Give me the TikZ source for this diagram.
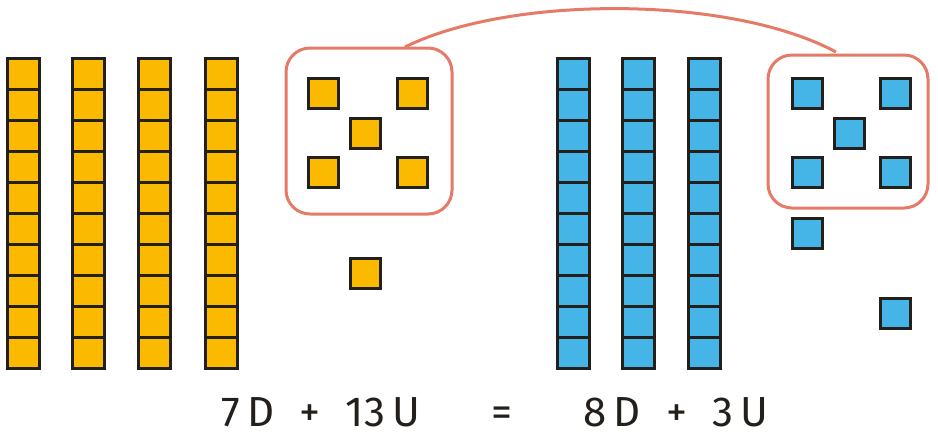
\documentclass[tikz,border=0pt]{standalone}
\usepackage{fontspec}
\setmainfont{Fira Sans}
\definecolor{gold}{HTML}{FBBA00}
\definecolor{sky}{HTML}{45B5E8}
\definecolor{ink}{HTML}{231F1A}
\definecolor{rope}{HTML}{E57A66}
\tikzset{
  cell/.style={draw=ink,line width=3pt},
  loop/.style={draw=rope,line width=3pt,rounded corners=24pt},
}
\begin{document}
\begin{tikzpicture}[x=1pt,y=-1pt]
  \useasboundingbox (0,0) rectangle (938,442);
  % tens
  \foreach \cx in {7,72,138,205}
    \foreach \k in {0,...,9}
      \draw[cell,fill=gold] (\cx,58+31*\k) rectangle ++(32,31);
  \foreach \cx in {557,622,688}
    \foreach \k in {0,...,9}
      \draw[cell,fill=sky] (\cx,58+31*\k) rectangle ++(32,31);
  % units
  \foreach \ux/\uy in {308/78,397/78,350/118,308/157,397/157,350/258}
    \draw[cell,fill=gold] (\ux,\uy) rectangle ++(30,30);
  \foreach \ux/\uy in {792/78,880/78,834/118,792/157,880/157,792/218,880/298}
    \draw[cell,fill=sky] (\ux,\uy) rectangle ++(30,30);
  % groups of ten
  \draw[loop] (286,48) rectangle (452,214);
  \draw[loop] (768,55) rectangle (928,208);
  \coordinate (left) at (405,47);
  \coordinate (right) at (836,52);
  \draw[rope,line width=3pt] (left) .. controls (510,-5) and (730,-5) .. (right);
  \node[font=\fontsize{42}{44}\selectfont,text=ink] (sum) at (495,412)
    {7\,D\hspace{0.6em}+\hspace{0.6em}13\,U\hspace{1.7em}=\hspace{1.7em}8\,D\hspace{0.6em}+\hspace{0.6em}3\,U};
\end{tikzpicture}
\end{document}
